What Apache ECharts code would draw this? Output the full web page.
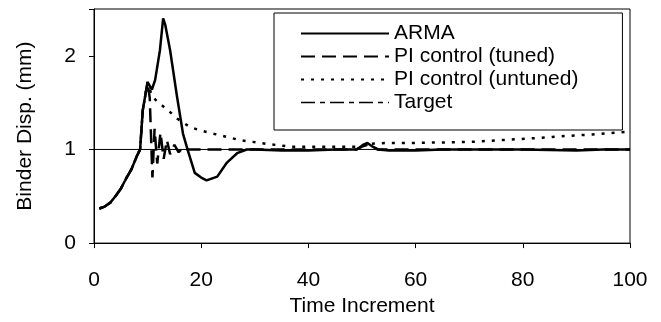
<!DOCTYPE html>
<html>
<head>
<meta charset="utf-8">
<script src="https://cdn.jsdelivr.net/npm/echarts@6/dist/echarts.min.js"></script>
<style>
  html, body { margin: 0; padding: 0; background: #fff; }
  #chart { width: 661px; height: 322px; }
</style>
</head>
<body>
<div id="chart"></div>
<script>
// ARMA response
var armaX = [1, 2, 3, 4, 5, 6, 7, 8, 8.6, 9.1, 10, 10.8, 11.4, 12.3, 12.9, 13.3, 14.2, 15.5, 16.6, 17.5, 18.8, 20, 21, 23, 24.8, 26.7, 28.5, 30, 35, 40, 45, 49, 50, 51, 52, 53, 55, 60, 65, 70, 80, 90, 95, 100]
var armaY = [0.37, 0.39, 0.43, 0.5, 0.58, 0.69, 0.79, 0.93, 1.0, 1.42, 1.72, 1.64, 1.74, 2.06, 2.4, 2.33, 2.06, 1.56, 1.17, 0.99, 0.75, 0.7, 0.67, 0.71, 0.86, 0.96, 1.0, 1.0, 0.99, 0.99, 1.0, 1.0, 1.04, 1.07, 1.03, 1.0, 0.99, 0.99, 1.0, 1.0, 1.0, 0.99, 1.0, 1.0]

// PI control (tuned)
var tunedX = [1, 2, 3, 4, 5, 6, 7, 8, 8.6, 9.1, 10, 10.4, 10.9, 11.3, 11.8, 12.4, 13, 13.6, 14.2, 15, 15.8, 16.6, 17.5, 20, 30, 40, 49, 50, 51, 52, 53, 60, 70, 80, 90, 100]
var tunedY = [0.37, 0.39, 0.43, 0.5, 0.58, 0.69, 0.79, 0.93, 1.0, 1.42, 1.72, 1.55, 0.7, 1.22, 0.85, 1.18, 0.9, 1.1, 0.95, 1.05, 0.97, 1.02, 1.0, 1.0, 1.0, 1.0, 1.0, 1.03, 1.05, 1.02, 1.0, 1.0, 1.0, 1.0, 1.0, 1.0]

// PI control (untuned)
var untunedX = [1, 2, 3, 4, 5, 6, 7, 8, 8.6, 9.1, 10, 10.8, 12, 13.6, 15.5, 17.9, 20, 22.9, 27.2, 32.2, 36.6, 40, 45, 49, 51, 55, 60, 70, 76, 82, 87, 93, 100]
var untunedY = [0.37, 0.39, 0.43, 0.5, 0.58, 0.69, 0.79, 0.93, 1.0, 1.42, 1.72, 1.57, 1.5, 1.43, 1.33, 1.24, 1.2, 1.16, 1.1, 1.06, 1.03, 1.03, 1.03, 1.03, 1.06, 1.07, 1.07, 1.08, 1.1, 1.12, 1.14, 1.16, 1.19]

// Target
var targetX = [0, 100]
var targetY = [1, 1]

var xTicks = [0, 20, 40, 60, 80, 100]
var yTicks = [0, 1, 2]

function zip(xs, ys) {
  return xs.map(function (x, i) { return [x, ys[i]] })
}

var font = 'Liberation Sans'
var chart = echarts.init(document.getElementById('chart'))

var option = {
  animation: false,
  backgroundColor: '#fff',
  textStyle: { fontFamily: font, color: '#000' },
  grid: {
    left: 94, right: 31, top: 9, bottom: 78,
    show: true, borderColor: '#000', borderWidth: 1
  },
  legend: {
    orient: 'vertical',
    left: 274, top: 13,
    padding: [10, 44, 17, 26],
    itemWidth: 88, itemHeight: 14, itemGap: 2,
    borderColor: '#000', borderWidth: 1,
    backgroundColor: '#fff',
    // hide the marker drawn in the middle of each line sample
    itemStyle: { color: 'rgba(0,0,0,0)', borderWidth: 0, opacity: 0 },
    textStyle: { fontFamily: font, fontSize: 21, color: '#000' },
    data: [
      { name: 'ARMA' },
      { name: 'PI control (tuned)' },
      { name: 'PI control (untuned)' },
      { name: 'Target', lineStyle: { type: [14, 5, 5, 5], width: 1.3, color: '#000' } }
    ]
  },
  xAxis: {
    type: 'value', min: 0, max: 100, interval: 20,
    name: 'Time Increment', nameLocation: 'middle', nameGap: 52,
    nameTextStyle: { fontFamily: font, fontSize: 21, color: '#000' },
    axisLine: { lineStyle: { color: '#000', width: 1 } },
    axisTick: { show: true, length: 5, lineStyle: { color: '#000' } },
    axisLabel: {
      fontFamily: font, fontSize: 21, color: '#000', margin: 27,
      formatter: function (v) { return xTicks.indexOf(v) >= 0 ? String(v) : '' }
    },
    splitLine: { show: false }
  },
  yAxis: {
    type: 'value', min: 0, max: 2.5, interval: 1,
    name: 'Binder Disp. (mm)', nameLocation: 'middle', nameGap: 58,
    nameTextStyle: { fontFamily: font, fontSize: 21, color: '#000' },
    axisLine: { show: true, lineStyle: { color: '#000', width: 1 } },
    axisTick: { show: true, length: 5, lineStyle: { color: '#000' } },
    axisLabel: {
      fontFamily: font, fontSize: 21, color: '#000', margin: 18,
      formatter: function (v) { return yTicks.indexOf(v) >= 0 ? String(v) : '' }
    },
    splitLine: { show: false }
  },
  series: [
    {
      name: 'Target', type: 'line', data: zip(targetX, targetY),
      symbol: 'none', z: 1,
      lineStyle: { color: '#000', width: 1, type: 'solid' },
      itemStyle: { color: '#000' }
    },
    {
      name: 'PI control (untuned)', type: 'line', data: zip(untunedX, untunedY),
      symbol: 'none', z: 2,
      lineStyle: { color: '#000', width: 2.5, type: [3, 7] },
      itemStyle: { color: '#000' }
    },
    {
      name: 'PI control (tuned)', type: 'line', data: zip(tunedX, tunedY),
      symbol: 'none', z: 3,
      lineStyle: { color: '#000', width: 2.5, type: [14, 7] },
      itemStyle: { color: '#000' }
    },
    {
      name: 'ARMA', type: 'line', data: zip(armaX, armaY),
      symbol: 'none', z: 4,
      lineStyle: { color: '#000', width: 2.5, type: 'solid' },
      itemStyle: { color: '#000' }
    }
  ]
}

option && chart.setOption(option)
</script>
</body>
</html>
